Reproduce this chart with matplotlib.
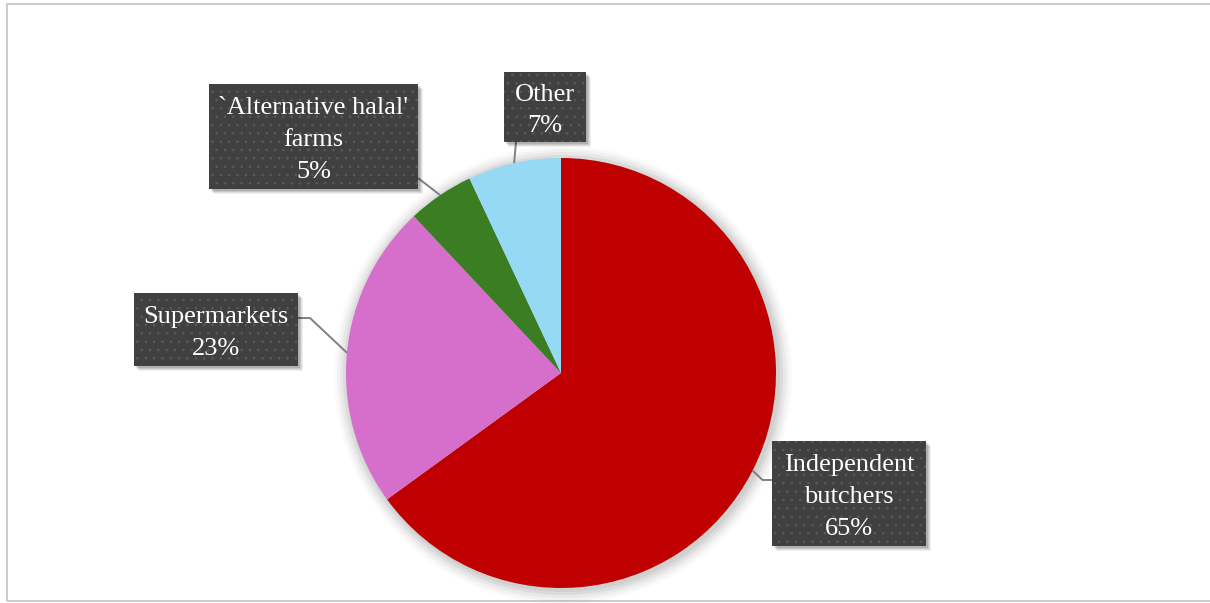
import matplotlib.pyplot as plt
import numpy as np
from matplotlib.patches import Rectangle, Circle

plt.rcParams["hatch.linewidth"] = 0.6

categories = ["Independent\nbutchers", "Supermarkets", "`Alternative halal'\nfarms", "Other"]
shares = [65, 23, 5, 7]
colors = ["#c00000", "#d66fcc", "#3b7d23", "#95d9f5"]

# label boxes: (left, top, width, height) in pixel-style coords, y measured from top
boxes = [
    (772, 441, 154, 105),
    (134, 293, 164, 73),
    (209, 84, 209, 105),
    (504, 72, 82, 70),
]
# where each leader line meets its box
box_anchors = [(772, 480), (298, 318), (418, 178), (516, 142)]

W, H = 1210, 603
CX, CY, R = 561, 373, 215

fig = plt.figure(figsize=(W / 100, H / 100), dpi=100)
ax = fig.add_axes([0, 0, 1, 1])


def fy(y):
    return H - y


# outer frame
ax.add_patch(Rectangle((7, fy(601)), W + 20, 597, fill=False,
                       edgecolor="#c4c4c4", linewidth=1.2))

# soft glow behind the pie
for i, a in enumerate([0.05, 0.05, 0.04, 0.03, 0.02]):
    ax.add_patch(Circle((CX + 2, fy(CY) - 2), R + 2 + 3 * i, color="#000000",
                        alpha=a, linewidth=0, zorder=1))

wedges, _ = ax.pie(shares, colors=colors, startangle=90, counterclock=False,
                   radius=R, center=(CX, fy(CY)), frame=True,
                   wedgeprops=dict(linewidth=0, zorder=2))
ax.set_xlim(0, W)
ax.set_ylim(0, H)
ax.set_aspect("equal")
ax.axis("off")

# leader lines from wedge middles to the label boxes
for i, (wedge, anchor) in enumerate(zip(wedges, box_anchors)):
    mid = np.deg2rad((wedge.theta1 + wedge.theta2) / 2)
    px = CX + R * np.cos(mid)
    py = fy(CY) + R * np.sin(mid)
    bx, by = anchor[0], fy(anchor[1])
    if i == 0:
        xs, ys = [px, px + 10, bx], [py, by, by]
    elif i == 1:
        xs, ys = [px, bx + 12, bx], [py, by, by]
    else:
        xs, ys = [px, bx], [py, by]
    ax.plot(xs, ys, color="#808080", linewidth=1.4, zorder=3,
            solid_capstyle="butt")

# dark dotted label boxes with drop shadow
for name, share, (left, top, w, h) in zip(categories, shares, boxes):
    for k, a in enumerate([0.10, 0.10, 0.08, 0.06]):
        off = 2 + k
        ax.add_patch(Rectangle((left + off, fy(top + h) - off), w, h,
                               facecolor="#000000", alpha=a, linewidth=0,
                               zorder=4))
    ax.add_patch(Rectangle((left, fy(top + h)), w, h, facecolor="#404040",
                           edgecolor="#5a5a5a", linewidth=0, hatch="..",
                           zorder=5))
    ax.text(left + w / 2, fy(top + h / 2) - 3.5, f"{name}\n{share}%", ha="center",
            va="center", color="white", fontsize=19,
            family="Liberation Serif", linespacing=1.57, zorder=6)

fig.savefig("out.png", dpi=100)
